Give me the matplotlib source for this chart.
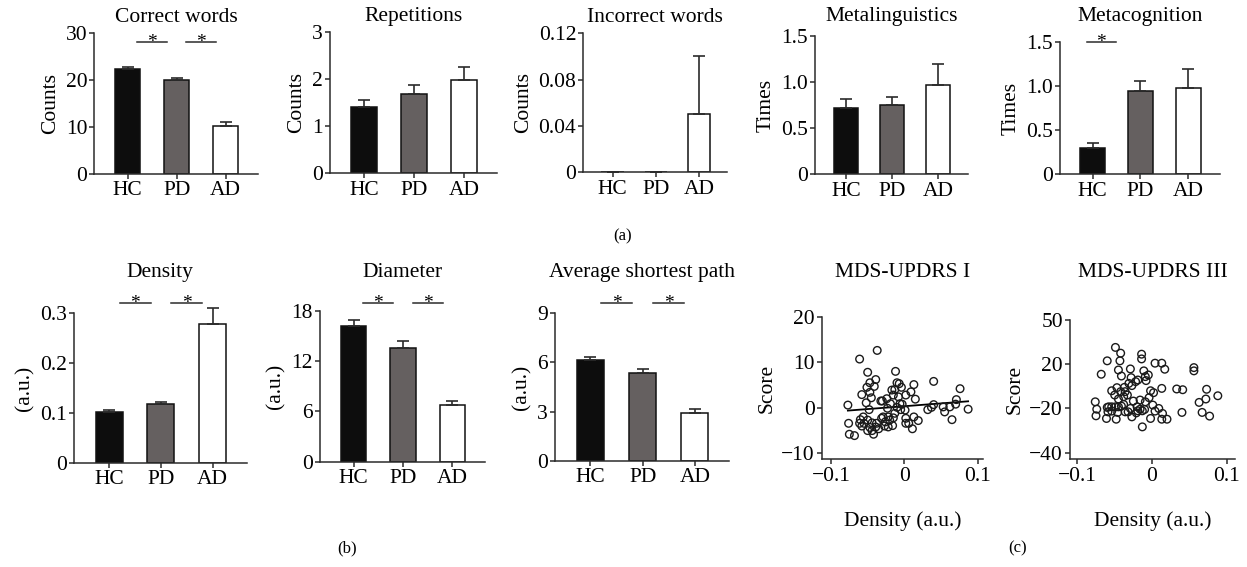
import numpy as np
import matplotlib
matplotlib.use('Agg')
import matplotlib.pyplot as plt

# ========== Data ==========
groups = ['HC', 'PD', 'AD']

correct_words_mean = [22.4, 20.0, 10.1]
correct_words_sem = [0.5, 0.5, 0.9]
repetitions_mean = [1.40, 1.69, 1.98]
repetitions_sem = [0.16, 0.19, 0.29]
incorrect_words_mean = [0.0, 0.0, 0.05]
incorrect_words_sem = [0.0, 0.0, 0.05]
metalinguistics_mean = [0.72, 0.75, 0.97]
metalinguistics_sem = [0.09, 0.09, 0.22]
metacognition_mean = [0.30, 0.95, 0.98]
metacognition_sem = [0.06, 0.11, 0.22]

density_mean = [0.101, 0.118, 0.279]
density_sem = [0.005, 0.003, 0.031]
diameter_mean = [16.2, 13.6, 6.7]
diameter_sem = [0.65, 0.8, 0.55]
shortest_path_mean = [6.15, 5.34, 2.93]
shortest_path_sem = [0.2, 0.26, 0.21]

# MDS-UPDRS I vs density
updrs1_density = [-0.077, -0.076, -0.075, -0.068, -0.061, -0.037, -0.058, -0.050, -0.051, -0.047,
                  -0.041, -0.039, -0.047, -0.045, -0.052, -0.048, -0.060, -0.061, -0.055, -0.058,
                  -0.050, -0.047, -0.044, -0.044, -0.042, -0.039, -0.035, -0.032, -0.030, -0.029,
                  -0.027, -0.022, -0.020, -0.016, -0.023, -0.019, -0.017, -0.015, -0.013, -0.012,
                  -0.010, -0.007, -0.004, -0.010, -0.013, -0.015, -0.006, -0.003, -0.005, 0.001,
                  0.002, 0.002, 0.006, 0.002, 0.009, 0.013, 0.015, 0.013, 0.011, 0.019,
                  0.032, 0.037, 0.040, 0.040, 0.053, 0.055, 0.062, 0.065, 0.070, 0.071,
                  0.076, 0.087, -0.031, -0.038, -0.024, -0.022, -0.050, -0.008, -0.026, -0.056]
updrs1_score = [0.6, -3.4, -5.8, -6.1, 10.7, 12.6, 2.9, 7.8, 4.5, 5.5,
                4.7, 6.2, 3.4, 2.2, 1.1, -0.4, -2.6, -3.4, -3.4, -4.0,
                -2.7, -4.3, -3.3, -5.0, -5.8, -4.2, -4.6, 1.5, 1.5, -2.0,
                -4.0, -4.2, -2.7, -3.9, -0.1, 0.9, 3.9, 2.8, 4.0, 8.0,
                5.5, 5.3, 4.5, 0.1, -1.2, -2.2, 0.9, 0.8, -0.4, -0.5,
                -2.3, -3.4, -3.4, 2.8, 3.5, 5.1, 1.9, -2.0, -4.6, -2.8,
                -0.4, 0.1, 0.7, 5.8, 0.2, -0.9, 0.2, -2.6, 0.8, 1.8,
                4.2, -0.3, -2.3, -3.4, 2.0, -2.0, -5.0, 2.4, -3.1, -2.0]

# MDS-UPDRS III vs density (score on the axis as printed: ticks 50, 20, -20, -40)
updrs3_density = [-0.076, -0.074, -0.075, -0.068, -0.060, -0.049, -0.042, -0.043, -0.045, -0.041,
                  -0.054, -0.047, -0.042, -0.037, -0.033, -0.038, -0.045, -0.050, -0.060, -0.058,
                  -0.054, -0.049, -0.045, -0.041, -0.038, -0.059, -0.054, -0.046, -0.061, -0.048,
                  -0.032, -0.027, -0.021, -0.016, -0.013, -0.010, -0.009, -0.016, -0.025, -0.029,
                  -0.028, -0.022, -0.019, -0.014, -0.014, -0.011, -0.009, -0.005, -0.008, -0.027,
                  -0.002, 0.002, -0.004, 0.004, 0.013, 0.017, 0.013, 0.001, 0.004, 0.009,
                  0.014, 0.013, 0.020, -0.002, -0.013, -0.029, -0.020, 0.033, 0.041, 0.040,
                  0.056, 0.056, 0.063, 0.067, 0.072, 0.073, 0.077, 0.088, -0.036, -0.031,
                  -0.019, -0.036]
updrs3_score = [-5.5, -10.5, -15.0, 13.2, 22.3, 31.4, 27.5, 22.3, 16.1, 12.0,
                2.0, 4.1, 1.4, 4.3, -0.9, -2.0, -3.6, -0.9, -9.3, -8.9,
                -8.9, -8.9, -8.9, -8.4, -7.3, -12.3, -11.8, -12.7, -16.8, -17.3,
                -12.3, -15.7, -13.0, -10.5, -11.6, -10.7, -5.5, -4.3, -5.0, 16.8,
                10.9, 8.2, 9.3, 26.8, 23.6, 15.5, 11.6, 12.7, 8.9, 5.5,
                2.0, 0.7, -2.7, 20.7, 20.7, 16.6, 3.6, -7.7, -11.8, -10.0,
                -13.4, -17.3, -17.3, -16.8, -22.5, -10.0, -8.9, 3.2, 2.7, -12.7,
                17.7, 15.5, -5.9, -12.7, -3.6, 3.0, -15.2, -1.4, 1.4, 7.0,
                -11.6, -12.3]

# ========== Style ==========
W, H = 1247, 567
plt.rcParams['font.family'] = ['Liberation Serif', 'DejaVu Serif']
plt.rcParams['font.size'] = 15.5
plt.rcParams['axes.linewidth'] = 1.1
plt.rcParams['axes.edgecolor'] = '#2b2b2b'
plt.rcParams['xtick.major.size'] = 3.6
plt.rcParams['ytick.major.size'] = 3.6
plt.rcParams['xtick.major.width'] = 1.1
plt.rcParams['ytick.major.width'] = 1.1
plt.rcParams['xtick.color'] = '#2b2b2b'
plt.rcParams['ytick.color'] = '#2b2b2b'
plt.rcParams['xtick.labelcolor'] = 'black'
plt.rcParams['ytick.labelcolor'] = 'black'
plt.rcParams['xtick.major.pad'] = 2.0
plt.rcParams['ytick.major.pad'] = 1.5

bar_colors = ['#0d0d0d', '#656060', 'white']
line_col = '#2b2b2b'


def box(x0, top, x1, bottom):
    # pixel box (from top-left) -> figure fraction
    return [x0 / W, 1 - bottom / H, (x1 - x0) / W, (bottom - top) / H]


def clean(ax):
    ax.spines['top'].set_visible(False)
    ax.spines['right'].set_visible(False)


fig = plt.figure(figsize=(W / 100, H / 100), dpi=100)

# ========== Bar panels ==========
bar_panels = [
    dict(title='Correct words', ylabel='Counts', mean=correct_words_mean, sem=correct_words_sem,
         ticks=[0, 10, 20, 30], labels=['0', '10', '20', '30'],
         pos=(94.3, 33.3, 258, 173.7), title_y=17, sig=[(0, 1), (1, 2)], sig_y=28.1, sig_shift=0.0),
    dict(title='Repetitions', ylabel='Counts', mean=repetitions_mean, sem=repetitions_sem,
         ticks=[0, 1, 2, 3], labels=['0', '1', '2', '3'],
         pos=(330, 32.3, 497, 173), title_y=17, sig=[], sig_y=0, sig_shift=0.0),
    dict(title='Incorrect words', ylabel='Counts', mean=incorrect_words_mean, sem=incorrect_words_sem,
         ticks=[0, 0.04, 0.08, 0.12], labels=['0', '0.04', '0.08', '0.12'],
         pos=(583.3, 33.3, 727.3, 172.3), title_y=17, sig=[], sig_y=0, sig_shift=0.0),
    dict(title='Metalinguistics', ylabel='Times', mean=metalinguistics_mean, sem=metalinguistics_sem,
         ticks=[0, 0.5, 1.0, 1.5], labels=['0', '0.5', '1.0', '1.5'],
         pos=(815, 35.7, 968.3, 174.3), title_y=17, sig=[], sig_y=0, sig_shift=0.0),
    dict(title='Metacognition', ylabel='Times', mean=metacognition_mean, sem=metacognition_sem,
         ticks=[0, 0.5, 1.0, 1.5], labels=['0', '0.5', '1.0', '1.5'],
         pos=(1060, 42.3, 1220, 174.3), title_y=17, sig=[(0, 1)], sig_y=1.5, sig_shift=-0.32),
    dict(title='Density', ylabel='(a.u.)', mean=density_mean, sem=density_sem,
         ticks=[0, 0.1, 0.2, 0.3], labels=['0', '0.1', '0.2', '0.3'],
         pos=(74, 313.3, 246.7, 462.7), title_y=273, sig=[(0, 1), (1, 2)], sig_y=0.32, sig_shift=0.0),
    dict(title='Diameter', ylabel='(a.u.)', mean=diameter_mean, sem=diameter_sem,
         ticks=[0, 6, 12, 18], labels=['0', '6', '12', '18'],
         pos=(320, 310.7, 485, 461.7), title_y=273, sig=[(0, 1), (1, 2)], sig_y=18.95, sig_shift=0.0),
    dict(title='Average shortest path', ylabel='(a.u.)', mean=shortest_path_mean, sem=shortest_path_sem,
         ticks=[0, 3, 6, 9], labels=['0', '3', '6', '9'],
         pos=(555, 313.3, 729.3, 460.7), title_y=273, sig=[(0, 1), (1, 2)], sig_y=9.65, sig_shift=0.0),
]

x = np.arange(len(groups))
for p in bar_panels:
    ax = fig.add_axes(box(*p['pos']))
    clean(ax)
    ax.bar(x, p['mean'], width=0.52, color=bar_colors, edgecolor='#111111', linewidth=1.1, zorder=2)
    ax.errorbar(x, p['mean'], yerr=[np.zeros(len(x)), p['sem']], fmt='none', ecolor=line_col,
                elinewidth=1.2, capsize=4.5, capthick=1.2, zorder=3, clip_on=False)
    ax.set_xlim(-0.68, 2.66)
    ax.set_ylim(p['ticks'][0], p['ticks'][-1])
    ax.set_yticks(p['ticks'])
    ax.set_yticklabels(p['labels'])
    ax.set_xticks(x)
    ax.set_xticklabels(groups)
    ax.set_ylabel(p['ylabel'], labelpad=4)
    for i, j in p['sig']:
        xs = [i + 0.2 + p['sig_shift'], j - 0.2 + p['sig_shift']]
        ax.plot(xs, [p['sig_y'], p['sig_y']], color=line_col, lw=1.1, clip_on=False)
        ax.annotate('*', xy=(np.mean(xs), p['sig_y']), xytext=(0, -3.5), textcoords='offset points',
                    ha='center', va='baseline', fontsize=14, annotation_clip=False)
    x0, top, x1, bottom = p['pos']
    fig.text((x0 + x1) / 2 / W, 1 - p['title_y'] / H, p['title'], ha='center', va='center')

# ========== Scatter panels ==========
scatter_panels = [
    dict(title='MDS-UPDRS I', xd=updrs1_density, yd=updrs1_score, fit=True,
         yticks=[-10, 0, 10, 20], ylabels=['\u221210', '0', '10', '20'], ylim=(-11.3, 20),
         xlim=(-0.1127, 0.1077), pos=(821.7, 316.7, 983.3, 459.3)),
    dict(title='MDS-UPDRS III', xd=updrs3_density, yd=updrs3_score, fit=False,
         yticks=[-40, -10, 20, 50], ylabels=['\u221240', '\u221220', '20', '50'], ylim=(-44.5, 50),
         xlim=(-0.1098, 0.111), pos=(1070, 320, 1235, 459.3)),
]

for p in scatter_panels:
    ax = fig.add_axes(box(*p['pos']))
    clean(ax)
    ax.scatter(p['xd'], p['yd'], s=30, facecolors='none', edgecolors='#1a1a1a', linewidths=1.0,
               zorder=3, clip_on=False)
    if p['fit']:
        k, b = np.polyfit(p['xd'], p['yd'], 1)
        xf = np.array([min(p['xd']), max(p['xd'])])
        ax.plot(xf, k * xf + b, color='black', lw=1.3, zorder=2)
    ax.set_xlim(*p['xlim'])
    ax.set_ylim(*p['ylim'])
    ax.set_yticks(p['yticks'])
    ax.set_yticklabels(p['ylabels'])
    ax.set_xticks([-0.1, 0, 0.1])
    ax.set_xticklabels(['\u22120.1', '0', '0.1'])
    ax.set_ylabel('Score', labelpad=3)
    ax.set_xlabel('Density (a.u.)', labelpad=18)
    x0, top, x1, bottom = p['pos']
    fig.text((x0 + x1) / 2 / W, 1 - 273 / H, p['title'], ha='center', va='center')

# ========== Panel letters ==========
fig.text(623 / W, 1 - 236 / H, '(a)', ha='center', va='center', fontsize=12)
fig.text(347 / W, 1 - 548 / H, '(b)', ha='center', va='center', fontsize=12)
fig.text(1018 / W, 1 - 548 / H, '(c)', ha='center', va='center', fontsize=12)

fig.savefig('out.png', dpi=100)
